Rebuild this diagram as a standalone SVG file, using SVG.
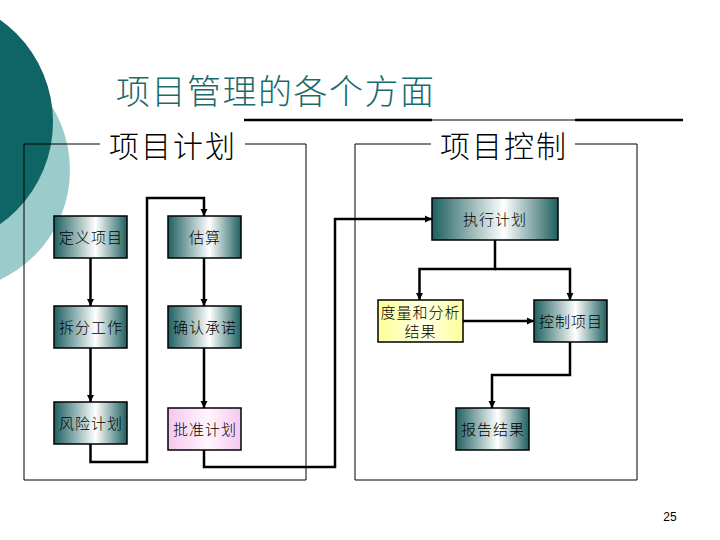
<svg xmlns="http://www.w3.org/2000/svg" width="720" height="540" viewBox="0 0 720 540">
<defs>
<linearGradient id="gTeal" x1="0" y1="0" x2="1" y2="0">
<stop offset="0" stop-color="#1e5f5f"/>
<stop offset="0.57" stop-color="#ffffff"/>
<stop offset="1" stop-color="#1e5f5f"/>
</linearGradient>
<linearGradient id="gPink" x1="0" y1="0" x2="1" y2="0">
<stop offset="0" stop-color="#f6c6f0"/>
<stop offset="0.55" stop-color="#fff6fd"/>
<stop offset="1" stop-color="#f6c6f0"/>
</linearGradient>
<linearGradient id="gYellow" x1="0" y1="0" x2="1" y2="0">
<stop offset="0" stop-color="#ffff99"/>
<stop offset="0.55" stop-color="#ffffe6"/>
<stop offset="1" stop-color="#ffff99"/>
</linearGradient>
<marker id="arr" viewBox="0 0 10 10" refX="10" refY="5" markerWidth="3" markerHeight="3" orient="auto" markerUnits="strokeWidth">
<path d="M0,0 L10,5 L0,10 z" fill="#000"/>
</marker>
<style>
.box{stroke:#000;stroke-width:1.5}
.teal{fill:url(#gTeal)}
.lbl{font-family:"Noto Sans CJK SC","Noto Sans",sans-serif;font-size:15px;font-weight:300;fill:#000;text-anchor:middle;letter-spacing:1px}
.frame{fill:none;stroke:#000;stroke-width:1}
.conn{fill:none;stroke:#000;stroke-width:2.5}
.hdr{font-family:"Noto Sans CJK SC","Noto Sans",sans-serif;font-size:30px;font-weight:300;fill:#000}
</style>
</defs>
<rect width="720" height="540" fill="#fff"/>
<g id="background">
<circle cx="-51" cy="170" r="121" fill="#9ccbcb"/>
<circle cx="-72" cy="122" r="125" fill="#0f6565"/>
</g>
<g id="title">
<text x="116" y="104" font-family="'Noto Sans CJK SC','Noto Sans',sans-serif" font-size="34" font-weight="300" fill="#1a6b6b" letter-spacing="1.5">项目管理的各个方面</text>
<line x1="244" y1="120" x2="432" y2="120" stroke="#000" stroke-width="2.5"/>
<line x1="432" y1="120" x2="575" y2="120" stroke="#000" stroke-width="1.2"/>
<line x1="575" y1="120" x2="683" y2="120" stroke="#000" stroke-width="2.5"/>
</g>
<g id="frame-plan">
<path class="frame" d="M100,144 H24 V480 H306 V144 H245"/>
<text class="hdr" x="109" y="157" letter-spacing="2">项目计划</text>
</g>
<g id="frame-control">
<path class="frame" d="M431,144 H355 V480 H637 V144 H575"/>
<text class="hdr" x="440" y="157" letter-spacing="2">项目控制</text>
</g>
<g id="connectors">
<line class="conn" x1="90.5" y1="258" x2="90.5" y2="306" marker-end="url(#arr)"/>
<line class="conn" x1="90.5" y1="348" x2="90.5" y2="402" marker-end="url(#arr)"/>
<path class="conn" d="M90.5,444 V462 H147 V198 H204 V216" marker-end="url(#arr)"/>
<line class="conn" x1="204" y1="258" x2="204" y2="306" marker-end="url(#arr)"/>
<line class="conn" x1="204" y1="348" x2="204" y2="408" marker-end="url(#arr)"/>
<path class="conn" d="M204,450 V467 H335 V219 H432" marker-end="url(#arr)"/>
<path class="conn" d="M495,240 V269 H419.5 V300" marker-end="url(#arr)"/>
<path class="conn" d="M495,269 H570 V300" marker-end="url(#arr)"/>
<line class="conn" x1="463" y1="321" x2="534" y2="321" marker-end="url(#arr)"/>
<path class="conn" d="M570,342 V375 H492 V408" marker-end="url(#arr)"/>
</g>
<g id="node-define">
<rect class="box teal" x="54" y="216" width="73" height="42"/>
<text class="lbl" x="91" y="243">定义项目</text>
</g>
<g id="node-split">
<rect class="box teal" x="54" y="306" width="73" height="42"/>
<text class="lbl" x="91" y="333">拆分工作</text>
</g>
<g id="node-risk">
<rect class="box teal" x="54" y="402" width="73" height="42"/>
<text class="lbl" x="91" y="429">风险计划</text>
</g>
<g id="node-estimate">
<rect class="box teal" x="168" y="216" width="73" height="42"/>
<text class="lbl" x="205" y="243">估算</text>
</g>
<g id="node-confirm">
<rect class="box teal" x="168" y="306" width="73" height="42"/>
<text class="lbl" x="205" y="333">确认承诺</text>
</g>
<g id="node-approve">
<rect class="box" fill="url(#gPink)" x="168" y="408" width="73" height="42"/>
<text class="lbl" x="205" y="435">批准计划</text>
</g>
<g id="node-execute">
<rect class="box teal" x="432" y="198" width="126" height="42"/>
<text class="lbl" x="495" y="225">执行计划</text>
</g>
<g id="node-measure">
<rect class="box" fill="url(#gYellow)" x="378" y="300" width="85" height="42"/>
<text class="lbl" x="420.5" y="318">度量和分析</text>
<text class="lbl" x="420.5" y="337">结果</text>
</g>
<g id="node-control">
<rect class="box teal" x="534" y="300" width="73" height="42"/>
<text class="lbl" x="571" y="327">控制项目</text>
</g>
<g id="node-report">
<rect class="box teal" x="456" y="408" width="73" height="42"/>
<text class="lbl" x="493" y="435">报告结果</text>
</g>
<text x="670" y="521" font-family="'Liberation Sans',Arial,sans-serif" font-size="12" fill="#000" text-anchor="middle">25</text>
</svg>
